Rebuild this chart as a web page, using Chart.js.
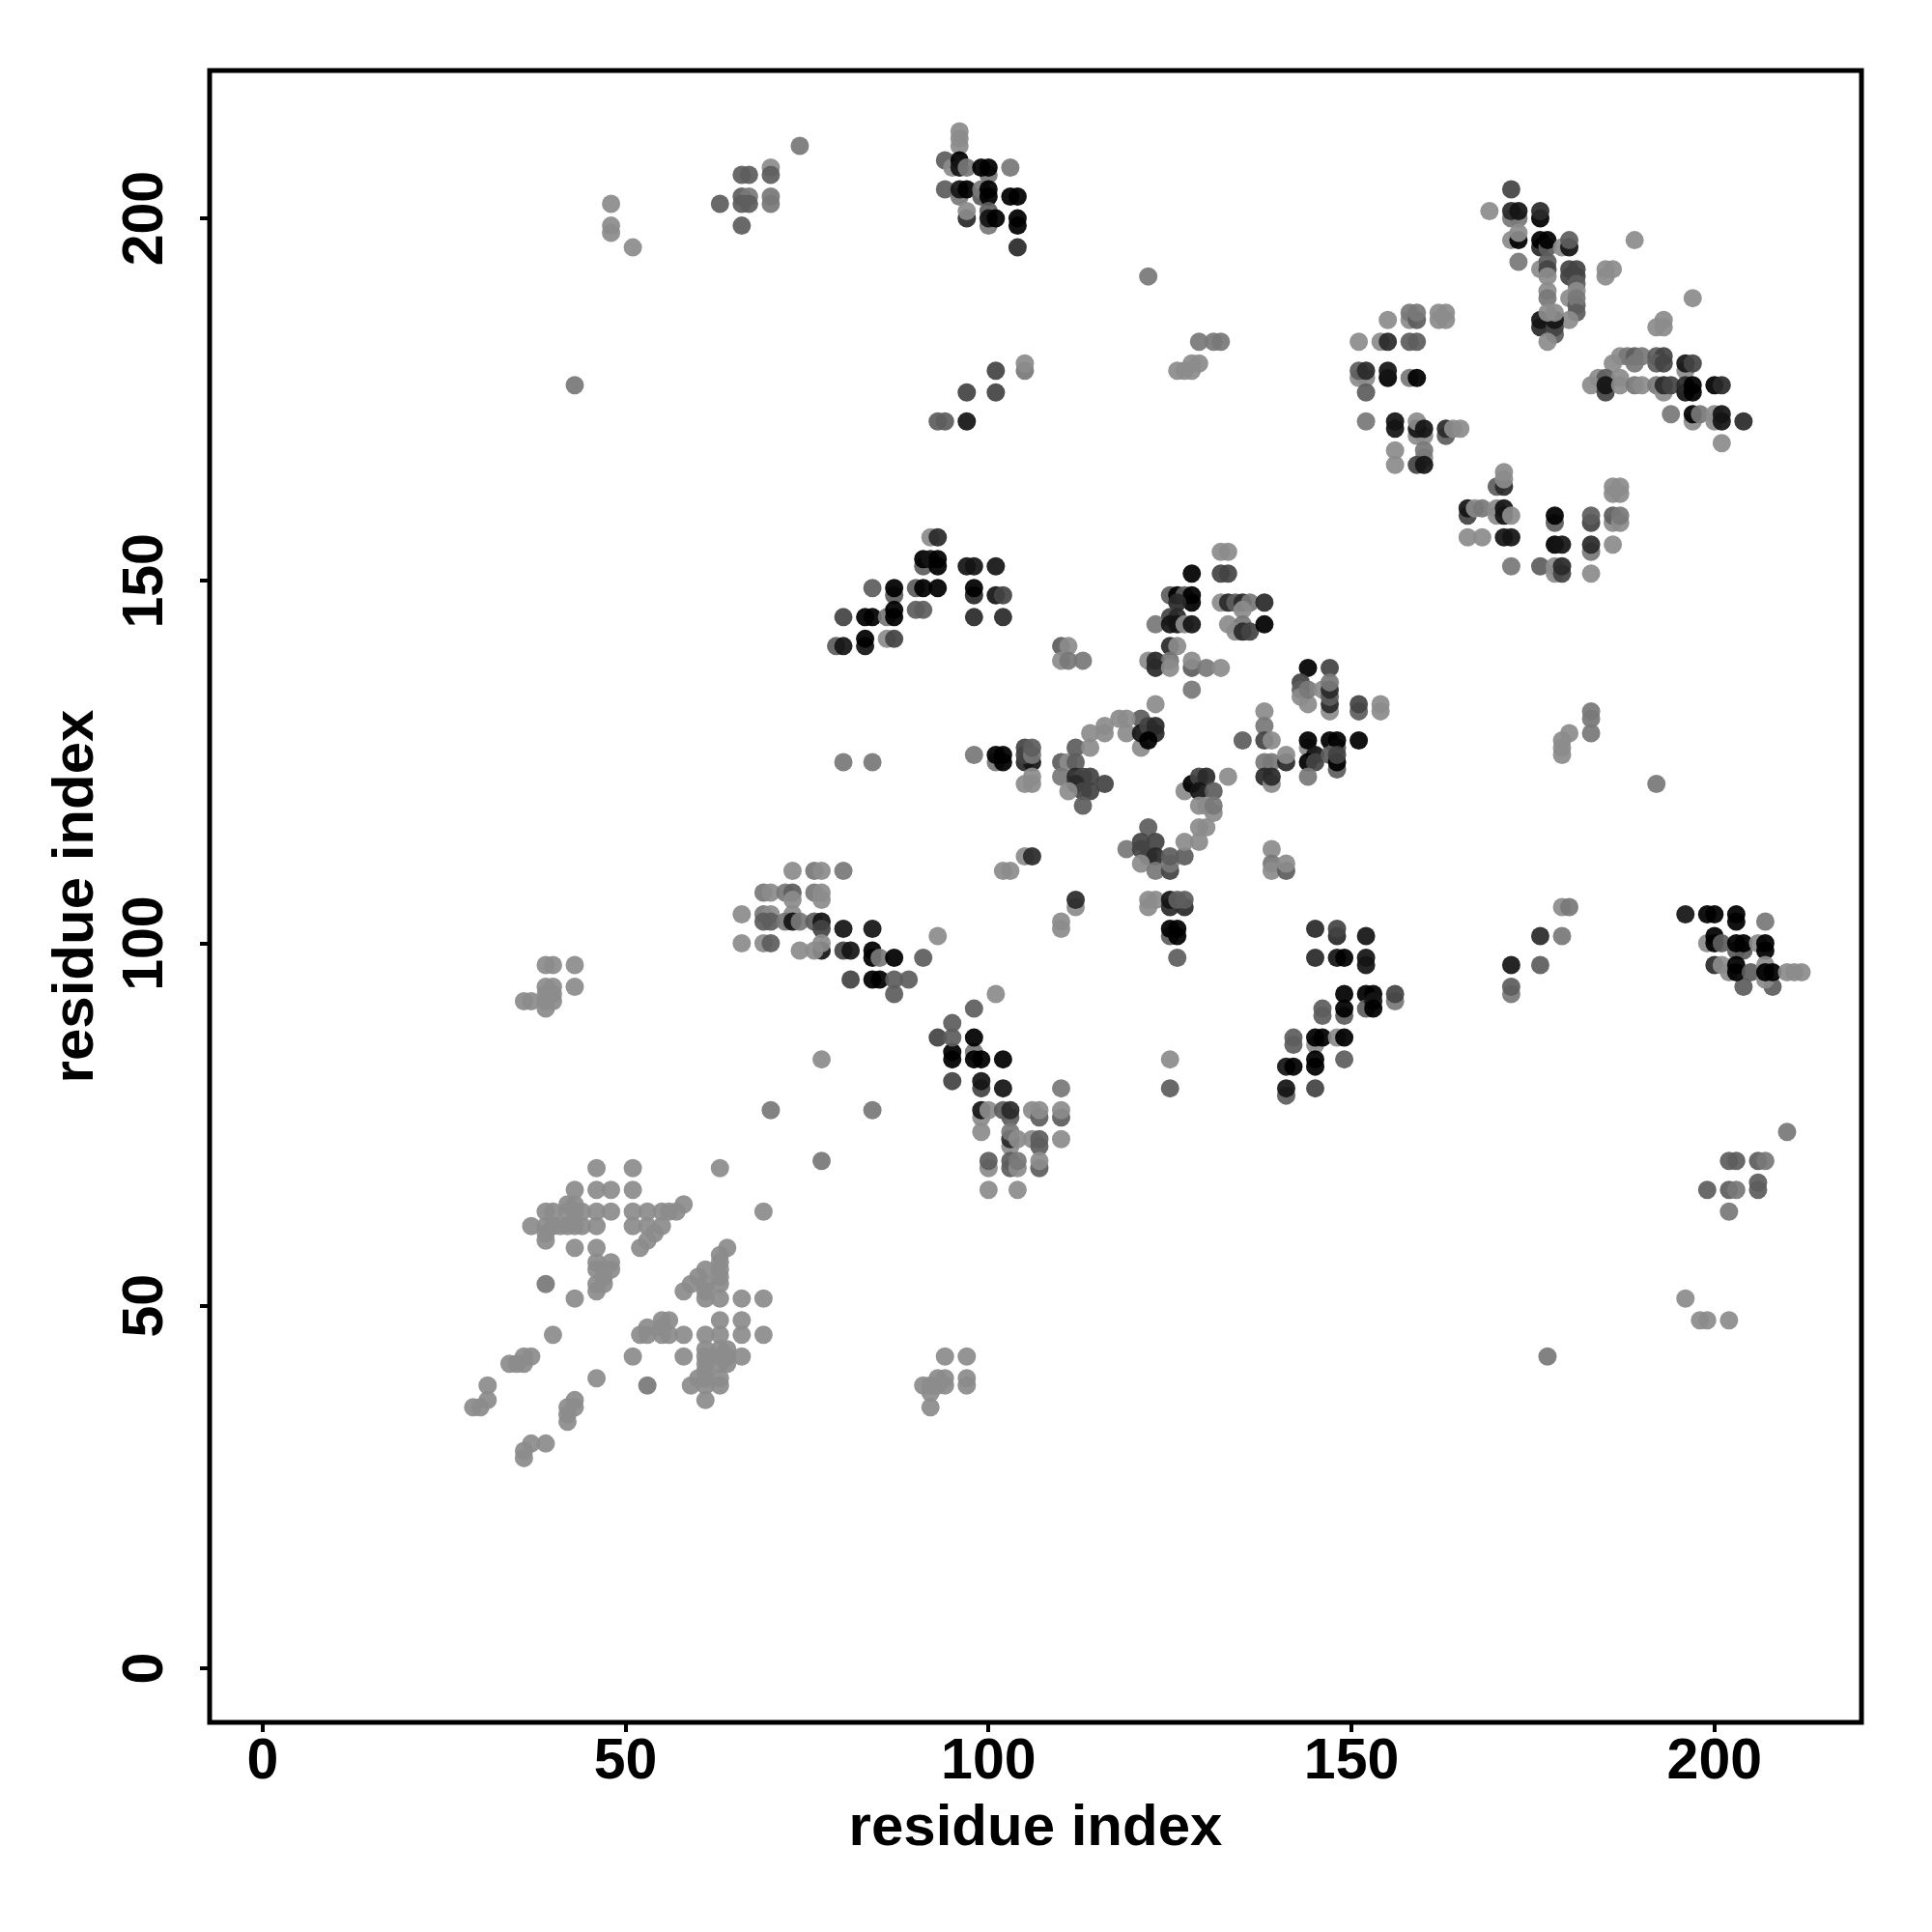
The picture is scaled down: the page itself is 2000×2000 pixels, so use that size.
<!DOCTYPE html>
<html>
<head>
<meta charset="utf-8">
<script src="https://cdn.jsdelivr.net/npm/chart.js@4/dist/chart.umd.min.js"></script>
<style>
  html, body { margin: 0; padding: 0; background: #fff; }
  #wrap { width: 2000px; height: 2000px; }
</style>
</head>
<body>
<div id="wrap"><canvas id="map" width="2000" height="2000"></canvas></div>
<script>
// each contact is [i, j, level], level 0 = black ... 6 = lightest; no level means lightest
const lowerLeft = [[46,69],[51,69],[63,69],[69,63],[70,77,5],[77,70,5],
  [43,66],[46,66],[48,66],[51,66],[43,64],[42,64],[58,64],
  [39,63],[40,63],[42,63],[43,63],[44,63],[46,63],[48,63],[51,63],[53,63],[55,63],[56,63],[57,63],
  [37,61],[39,61],[40,61],[41,61],[42,61],[43,61],[44,61],[46,61],[51,61],[53,61],[55,61],
  [39,60],[39,59],[54,60],[53,59],[52,58],[43,58],[46,58],
  [64,58],[63,57],[63,56],[63,55],[61,55],[60,54],[63,54],[59,53],[58,52],[61,53],[61,52],[63,53],[61,51],[63,51],[66,51],[69,51],
  [46,56],[48,56],[46,55],[47,55],[48,55],[47,54],[47,53],[46,53],[46,52],
  [39,53,5],[43,51],[40,46],
  [55,48],[56,48],[63,48],[66,48],[53,47],[55,47],[52,46],[53,46],[55,46],[56,46],[58,46],[61,46],[63,46],[66,46],[69,46],
  [61,44],[63,44],[64,44],[51,43],[58,43],[61,43],[63,43],[64,43],[66,43],[61,42],[63,42],[64,42],[61,41],
  [46,40],[60,40],[61,40],[63,40],[53,39,5],[59,39],[61,39],[63,39],[61,37],
  [36,43],[37,43],[34,42],[35,42],[36,42],[31,39],[31,37],[30,36],[29,36],
  [43,37],[42,36],[43,36],[42,35],[42,34],[37,31],[39,31],[36,30],[36,29]];
const leftMiddle = [[39,97],[40,97],[43,97],[39,94],[40,94],[43,94],[36,92],[37,92],[39,93],[40,93],[39,92],[40,92],[39,91]];
const helixBlock = [[73,110],[76,110,5],[77,110],[80,110,5],
  [69,107,5],[70,107],[72,107,5],[73,107,4],[76,107,5],[77,107],[73,106],[77,106],
  [66,104],[69,104,5],[70,104],[73,104],
  [69,103,4],[70,103,4],[72,103,5],[73,103,1],[74,103,5],[76,103,4],[77,103,1],[77,102,3],[80,102,1],[84,102,1],
  [66,100],[69,100],[70,100,4],[77,99,1],[77,100],[74,99],[76,99],[80,99,3],[81,99,1],[84,99,0],[84,98,0],[85,98,5],[87,98,0],[91,98,4],[93,101],
  [81,95,3],[84,95,0],[85,95,0],[87,93,4],[87,95,4],[89,95,4],[77,84]];
const middleLow = [[95,89,4],[93,87,3],[95,85,0],[95,84,0],[95,87,4],[98,91,4],[98,85,5],[98,87,0],[98,84,0],[99,84,0],[102,84,0],[95,81,3],[99,80,3],[99,81,1],[102,80,1],[101,93],
  [110,80,5],[99,76],[99,74],[99,77,1],[100,77],[102,77,4],[103,76,4],[103,77,2],[106,77],[107,76,4],[107,77],[110,76,4],[110,77],
  [103,72],[103,73,2],[103,74,5],[104,73],[106,73],[107,72,4],[107,73,4],[110,73],
  [100,69],[100,70,4],[103,69,4],[103,70,4],[104,69],[104,70,5],[107,69,4],[107,70],[100,66],[104,66]];
const upperBlock = [[92,156],[93,156,2],[91,152,4],[91,153,0],[92,153,1],[93,153,0],[93,152,0],[97,152,1],[98,152,1],[101,152,1],
  [84,149,4],[87,148,4],[87,149,0],[90,149,4],[91,149,0],[93,149,0],[98,148,2],[98,149,0],[101,148,1],[102,148,3],
  [90,146,4],[91,146,4],[80,145,3],[83,145,0],[84,145,0],[86,145,5],[87,146,0],[87,145,0],[98,145,2],[102,145,2],
  [86,142],[87,142,3],[83,141,1],[83,142,0],[79,141,4],[80,141,1]];
const upperCenter = [[110,141,4],[111,141],[110,139],[111,139,5],[113,139,5],
  [132,154],[133,154],[132,151,3],[133,151,3],[128,151,0],
  [125,148,4],[126,148,0],[127,148,4],[128,148,0],[128,147,0],[126,147,2],
  [132,147],[133,147,2],[134,147,4],[135,147,2],[136,147,5],[138,147,2],[135,146],
  [125,145,3],[126,145,2],[123,144,5],[125,144,1],[126,144,1],[127,144],[128,144,1],
  [133,144],[135,144,5],[134,143],[135,143,2],[136,143,3],[138,144,0],
  [125,141,2],[126,141],[122,139],[123,139,2],[125,139,5],[123,138,2],[125,138],[128,138,4],[128,139],[130,138,5],[132,138],[128,135,5]];
const centerArc = [[123,133],[121,131,4],[119,131],[118,131],[116,130],[116,129],[114,129],[119,129],[112,127,4],[114,127],
  [121,127],[121,129,1],[122,130,3],[123,130,2],[123,129,2],[122,128,0]];
const centerLeft = [[98,126,5],[101,125,5],[101,126,0],[102,125,0],[102,126,0],[105,125,2],[106,125,1],[105,127,3],[105,126,3],[106,126,5],[106,127,4],[105,122],[106,122],[106,123],
  [110,125,4],[111,125],[112,125,4],[110,123,5],[112,123,2],[113,123,3],[114,123,3],[116,122,3],[112,122,2],[113,121,3],[114,121,3],[111,121],[113,119,4]];
const centerRight = [[127,121],[128,122,0],[129,123,3],[130,123,2],[129,121,1],[131,121,4],[133,123],[129,119],[130,119],[131,118],[131,119,5],[129,116],[130,116],[127,114],[129,114]];
const centerLow = [[122,116,4],[119,113,5],[121,114,3],[123,114,3],[121,113,3],[122,112,3],[123,112,2],[121,111],[123,110,5],[125,110,3],[125,111,5],[125,112,4],[127,112,4],
  [139,113],[139,111,5],[139,110],[141,110,4],[141,111],
  [105,112],[106,112,2],[102,110],[103,110],[112,105],[112,106,2],[110,103],[110,102],
  [122,106],[123,106],[122,105],[125,105,2],[127,105,2],[125,106,1],[126,106,4],[127,106,4],[125,101,4],[125,102,0],[126,102,0],[126,101,0],[126,98,4],[125,84],[125,80,4]];
const rightOfCenter = [[144,138,0],[147,138,3],[143,136,3],[143,135,4],[143,134],[144,133],[144,135,5],[146,135],[147,132],[147,133,2],[147,134,4],[147,135,2],[147,136,5],
  [151,132,4],[151,133,3],[154,132],[154,133],
  [138,132],[138,130,5],[135,128,4],[138,128,3],[139,128],[144,127],[144,128,0],[147,128,0],[148,127,4],[148,128,0],[151,128,0],
  [145,126,1],[144,125,0],[145,125,3],[147,126,4],[148,124,4],[148,125,0],[148,126,3],
  [138,125,5],[139,125,5],[141,125,2],[141,126],[138,123,2],[139,122],[139,123,2],[144,123,5]];
const lowerMiddleRight = [[145,102,2],[148,101,2],[148,102,3],[152,101,1],[145,98,2],[148,98,1],[149,98,0],[152,97,1],[152,98,1],
  [149,93,0],[152,93,0],[153,93,0],[156,92,5],[156,93,3],[146,90,4],[146,91,4],[149,90,4],[149,91,0],[152,91,4],[153,92,1],[153,91,0],
  [142,86,4],[142,87,4],[145,86],[145,87,0],[146,87,0],[148,87],[149,87,0],[149,84,4],[145,84,0],[145,83,0],[141,83,1],[142,83,0],[141,79,4],[141,80,1],[145,80,3]];
const farRight = [[179,105],[180,105,5],[176,101,2],[179,101,5],[172,97,1],[176,97,4],[172,93,5],[172,94,4],
  [196,104,1],[199,104,0],[200,104,0],[203,104,0],[203,103,0],[207,103,5],
  [199,100],[200,101,0],[200,100,0],[201,100,4],[203,99,4],[204,99,4],[203,100,0],[204,100,0],[206,100],[207,100,0],[207,99,0],
  [204,94,4],[208,94,4],[200,97,2],[201,97],[202,96],[203,96,0],[203,97,0],[205,96,4],[207,95],[207,97],[207,96,0],[208,96,0],[210,96],[211,96],[212,96]];
const upperRightA = [[155,186],[158,186],[158,187,5],[159,186,4],[159,187,5],[162,186],[163,186],[162,187],[163,187],
  [151,183],[154,183],[155,183,2],[158,183,4],[159,183,4],
  [151,178],[152,178],[151,179,4],[152,179,2],[155,178,0],[155,179,1],[158,178,5],[159,178,0],[152,176,4],[152,172,5],
  [156,172,1],[156,171,1],[159,170],[160,170],[159,171,1],[159,172],[160,171,1],[163,170,4],[163,171,2],[164,171],[165,171],
  [156,168],[160,167],[160,168,5],[156,166],[159,166,3],[160,166,1]];
const upperRightB = [[170,163,4],[171,163,2],[171,164],[171,165],
  [166,159,3],[166,160,1],[167,160],[168,160,5],[170,159],[170,160],[171,160,1],[171,159,1],[172,159],
  [166,156],[168,156],[171,156,1],[172,156,1],
  [178,158,4],[178,159,0],[178,155,0],[179,155,1],[183,158,3],[183,159,4],[186,158],[186,159,4],[187,158],[187,159,5],[186,162],[187,162],[186,163],[187,163],
  [183,154,5],[183,155,2],[186,155],[172,152,5],[176,152,4],[178,151],[178,152],[179,151,3],[179,152,2],[183,151]];
const upperRightC = [[197,189],[193,186],[192,185],[193,185],
  [187,181],[188,181,5],[189,181,4],[190,181,5],[192,181,4],[193,181,3],[186,180],[189,180,5],[192,180,4],[193,180,3],[196,179],[196,180,1],[197,180,3],
  [184,178],[185,178,4],[187,178],[183,177],[185,176,3],[185,177,1],[187,177],[189,177,5],[190,177],[192,177,5],[193,176],[193,177,2],[194,177,3],[196,176,1],[196,177,2],[197,176,0],[197,177,0],[200,177,0],[201,177,2],
  [194,173,5],[197,172],[197,173,0],[198,173,5],[200,172],[200,173],[201,172,1],[201,173,1],[204,172,2],[201,169]];
const topColumn = [[169,201],[172,204,3],[172,200,5],[173,200,5],[172,201,2],[173,201,1],[176,200,0],[176,201,2],
  [172,197],[173,197,0],[173,198],[176,196,2],[176,197,0],[177,196,4],[177,197,0],[179,196],[180,196,1],[180,197,4],[189,197],
  [173,194,5],[176,193],[177,194,4],[177,193,3],[177,192],[180,192,3],[181,192,3],[180,193,3],[181,193,3],
  [185,192],[185,193],[186,193],
  [181,191,4],[177,190],[181,190],[177,189,5],[180,189],[181,188,4],[181,189,5],[181,187,4],[180,186],
  [176,185,2],[176,186,1],[178,184,4],[178,185,3],[178,186,1],[177,187],[178,187],[177,183]];
const topBlock = [[96,212],[96,211],[96,210],[94,208,4],[95,207],[96,208,0],[96,207,1],[97,207,5],[100,206,5],[99,207,0],[100,207,0],[103,207,5],
  [94,204,4],[96,203,5],[96,204,1],[97,204,0],[99,203,4],[99,204,5],[100,204,0],[100,203,0],[103,203,0],[104,203,0],
  [97,200,2],[97,201],[100,199,5],[100,201,4],[100,200,1],[101,200,0],[104,200,0],[104,199,0],[104,196,2]];
const topLeft = [[74,210,5],[63,202,4],[66,206,4],[67,206,4],[70,207],[70,206,4],[66,203,4],[67,203,5],[66,202,4],[67,202,4],[70,203,5],[70,202,5],[66,199,4],
  [48,202],[48,199],[48,198],[51,196],[43,177,5],[122,192,5]];
const scattered = [[126,179],[127,179],[128,179],[128,180],[129,180],[129,183,5],[131,183,5],[132,183,5],
  [93,172,4],[94,172,4],[97,172,1],[97,176,3],[101,176,3],[101,179,3],[105,179,5],[105,180],
  [80,125,5],[84,125,5],[192,122,5],[180,129],[179,128],[179,127],[179,126],[183,132,5],[183,131,5],[183,129,5],[84,77,5]];
const lowerRight = [[210,74,5],[199,66,4],[202,70,4],[203,70,4],[206,70,4],[207,70,5],[202,66,4],[203,66,5],[206,67,4],[206,66,4],[202,63,5],
  [196,51],[198,48],[199,48],[202,48],[177,43,5],
  [94,43],[97,43],[91,39],[92,39],[93,40],[94,40],[92,38],[92,36],[93,39],[94,39],[97,39],[97,40]];

const clusters = [lowerLeft, leftMiddle, helixBlock, middleLow, upperBlock, upperCenter, centerArc, centerLeft, centerRight,
  centerLow, rightOfCenter, lowerMiddleRight, farRight, upperRightA, upperRightB, upperRightC, topColumn, topBlock, topLeft, scattered, lowerRight];
const levelGrey = [0, 20, 42, 68, 94, 120, 140];
const axisTicks = [0, 50, 100, 150, 200];

function shade(p) {
    const g = levelGrey[p[2] === undefined ? 6 : p[2]];
    return `rgba(${g},${g},${g},0.93)`;
}

// box around the plot, R style
const boxPlugin = {
    id: 'box',
    afterDatasetsDraw(chart) {
        const a = chart.chartArea;
        const c = chart.ctx;
        c.save();
        c.strokeStyle = '#000';
        c.lineWidth = 5;
        c.strokeRect(a.left, a.top, a.right - a.left, a.bottom - a.top);
        c.restore();
    }
};

const tickFont = { family: '"Liberation Sans"', weight: 'bold', size: 59 };
const titleFont = { family: '"Liberation Sans"', weight: 'bold', size: 60 };
const commonGrid = { drawOnChartArea: false, color: '#000', lineWidth: 4, tickLength: 10 };

new Chart(document.getElementById('map'), {
    type: 'scatter',
    data: {
        datasets: clusters.map(list => ({
            data: list.map(p => ({ x: p[0], y: p[1] })),
            pointRadius: 9.5,
            pointHoverRadius: 9.5,
            pointBorderWidth: 0,
            pointBackgroundColor: list.map(shade)
        }))
    },
    options: {
        responsive: false,
        animation: false,
        layout: { padding: { top: 73, right: 73, left: 0, bottom: 0 } },
        plugins: { legend: { display: false }, tooltip: { enabled: false } },
        scales: {
            x: {
                type: 'linear',
                min: -7.3,
                max: 220.25,
                afterBuildTicks(scale) { scale.ticks = axisTicks.map(v => ({ value: v })); },
                afterFit(scale) { scale.height = 217; },
                grid: commonGrid,
                border: { display: false },
                ticks: { color: '#000', font: tickFont, padding: -4, maxRotation: 0, minRotation: 0 },
                title: { display: true, text: 'residue index', color: '#000', font: titleFont, padding: 71 }
            },
            y: {
                type: 'linear',
                min: -7.46,
                max: 220.4,
                afterBuildTicks(scale) { scale.ticks = axisTicks.map(v => ({ value: v })); },
                afterFit(scale) { scale.width = 217; },
                grid: commonGrid,
                border: { display: false },
                ticks: { color: '#000', font: tickFont, padding: 6, minRotation: 90, crossAlign: 'center' },
                title: { display: true, text: 'residue index', color: '#000', font: titleFont, padding: 43 }
            }
        }
    },
    plugins: [boxPlugin]
});
</script>
</body>
</html>
